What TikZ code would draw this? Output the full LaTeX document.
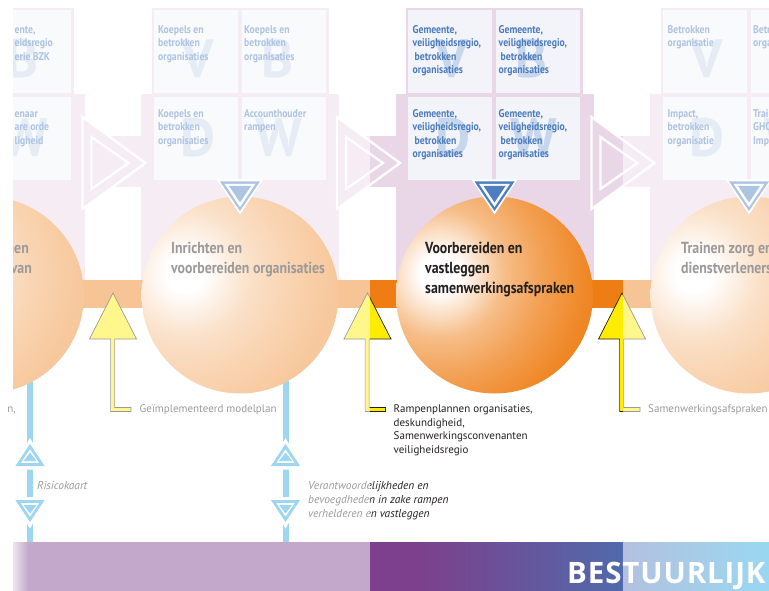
\documentclass[tikz,border=0pt]{standalone}
\usepackage{fontspec}
\setmainfont{PT Sans}
\newfontfamily\condfont[FakeStretch=0.865]{PT Sans}
\newfontfamily\titlefont[LetterSpace=3]{Open Sans}

\definecolor{orbOrange}{RGB}{238,125,20}
\definecolor{panelPink}{RGB}{233,215,232}
\definecolor{cellWhite}{RGB}{242,244,250}
\definecolor{cellText}{RGB}{74,123,191}
\definecolor{letterBlue}{RGB}{198,214,236}
\definecolor{markBlue}{RGB}{77,127,192}
\definecolor{lineBlue}{RGB}{40,165,228}
\definecolor{arrowYellow}{RGB}{255,236,0}
\definecolor{inkBlack}{RGB}{35,31,32}
\definecolor{fadedInk}{RGB}{156,154,155}
\definecolor{bandPurple}{RGB}{125,64,140}
\definecolor{bandBlue}{RGB}{80,106,172}
\definecolor{bandBlueL}{RGB}{88,118,185}
\definecolor{bandCyan}{RGB}{30,168,225}

% soft glow, spread over a disc of radius 160pt
\pgfdeclareradialshading{glow}{\pgfpoint{0bp}{0bp}}{%
  color(0bp)=(white); color(3bp)=(white);
  color(10bp)=(orbOrange!50!white); color(16bp)=(orbOrange!72!white);
  color(23bp)=(orbOrange!92!white); color(30bp)=(orbOrange); color(50bp)=(orbOrange)}

% strut that fixes the height of a first text line
\newcommand{\firstline}[1]{\rule{0pt}{#1pt}}

\tikzset{
  orb/.style={circle, inner sep=0, minimum size=197pt,
    path picture={\shade[shading=glow, shift={(path picture bounding box.center)}]
      (-55,-22) circle[radius=160];}},
  bigletter/.style={font=\bfseries\fontsize{54}{54}\selectfont, text=letterBlue, anchor=base, inner sep=0},
  celltext/.style={font=\condfont\bfseries\fontsize{11.2}{13.5}\selectfont, text=cellText, align=left, anchor=north west, inner sep=0},
  orbtext/.style={font=\condfont\bfseries\fontsize{16}{20}\selectfont, text=inkBlack, align=left, anchor=north west, inner sep=0},
  plainlabel/.style={font=\fontsize{11}{13.5}\selectfont, text=inkBlack, align=left, inner sep=0},
  itallabel/.style={font=\itshape\fontsize{11.4}{14}\selectfont, text=inkBlack, align=left, inner sep=0},
  titletext/.style={font=\titlefont\bfseries\fontsize{29.5}{30}\selectfont, text=white, anchor=base west, inner sep=0},
}

\begin{document}
\begin{tikzpicture}[x=1pt,y=-1pt]
\useasboundingbox (0,0) rectangle (769,591);

% column panels with the four VBDW cells
\foreach \k/\cx in {1/-14.5,2/240,3/494.5,4/749}{
  \fill[panelPink] (\cx-88.5,8) rectangle (\cx+88.5,95);
  \fill[panelPink] (\cx-99,94) rectangle (\cx+99,280);
  \fill[cellWhite] (\cx-86.5,10.5) rectangle (\cx-2.5,93);
  \fill[cellWhite] (\cx+1.5,10.5) rectangle (\cx+85.5,93);
  \fill[cellWhite] (\cx-86.5,97) rectangle (\cx-2.5,180);
  \fill[cellWhite] (\cx+1.5,97) rectangle (\cx+85.5,180);
  \node[bigletter] (V\k) at (\cx-42.5,78) {V};
  \node[bigletter] (B\k) at (\cx+37,78) {B};
  \node[bigletter] (D\k) at (\cx-42,157) {D};
  \node[bigletter] (W\k) at (\cx+39,157) {W};
}

% cell texts
\node[celltext] (c1b) at (14.5,23) {\firstline{10}ente,\\eidsregio\\erie BZK};
\node[celltext] (c1w) at (14.5,107) {\firstline{10}enaar\\are orde\\ligheid};

\node[celltext] (c2v) at (158,23) {\firstline{10}Koepels en\\betrokken\\organisaties};
\node[celltext] (c2b) at (244,23) {\firstline{10}Koepels en\\betrokken\\organisaties};
\node[celltext] (c2d) at (158,107) {\firstline{10}Koepels en\\betrokken\\organisaties};
\node[celltext] (c2w) at (244,107) {\firstline{10}Accounthouder\\rampen};

\node[celltext] (c3v) at (412.5,23) {\firstline{10}Gemeente,\\veiligheidsregio,\\\hspace{2pt}betrokken\\organisaties};
\node[celltext] (c3b) at (498.5,23) {\firstline{10}Gemeente,\\veiligheidsregio,\\\hspace{2pt}betrokken\\organisaties};
\node[celltext] (c3d) at (412.5,107) {\firstline{10}Gemeente,\\veiligheidsregio,\\\hspace{2pt}betrokken\\organisaties};
\node[celltext] (c3w) at (498.5,107) {\firstline{10}Gemeente,\\veiligheidsregio,\\\hspace{2pt}betrokken\\organisaties};

\node[celltext] (c4v) at (667.5,23) {\firstline{10}Betrokken\\organisatie};
\node[celltext] (c4b) at (753,23) {\firstline{10}Betrokken\\organisatie};
\node[celltext] (c4d) at (667.5,107) {\firstline{10}Impact,\\betrokken\\organisatie};
\node[celltext] (c4w) at (753,107) {\firstline{10}Training\\GHOR\\Impact};

% arrows from one column to the next
\foreach \cx in {-14.5,240,494.5}{
  \fill[panelPink] (\cx+98,136) rectangle (\cx+157,187);
  \fill[panelPink] (\cx+97,117) -- (\cx+160,163) -- (\cx+97,209) -- cycle;
  \draw[white, line width=2.3] (\cx+97,117) -- (\cx+160,163) -- (\cx+97,209) -- cycle;
  \draw[white, line width=2.3] (\cx+106,137) -- (\cx+143,163) -- (\cx+106,189) -- cycle;
}

% process bar
\fill[orbOrange] (13,280) rectangle (769,308);

% vertical lines below the first two circles
\foreach \lx in {30,285.5}{
  \draw[lineBlue, line width=6] (\lx,300) -- (\lx,542);
}

% the circles
\node[orb] (orb1) at (-14.5,295) {};
\node[orb] (orb2) at (240,295) {};
\node[orb] (orb3) at (494.5,295) {};
\node[orb] (orb4) at (749,295) {};

\node[orbtext, anchor=base east] (o1a) at (29,253) {nen};
\node[orbtext, anchor=base east] (o1b) at (32,273) {van};
\node[orbtext] (o2) at (171,241) {\firstline{12}Inrichten en\\voorbereiden organisaties};
\node[orbtext] (o3) at (425,241) {\firstline{12}Voorbereiden en\\vastleggen\\samenwerkingsafspraken};
\node[orbtext] (o4) at (681,241) {\firstline{12}Trainen zorg en\\dienstverleners};

% markers on top of the circles
\foreach \cx in {240,494.5,749}{
  \fill[white] (\cx-23,179.5) -- (\cx+23,179.5) -- (\cx,214.5) -- cycle;
  \fill[markBlue] (\cx-20,181.5) -- (\cx+20,181.5) -- (\cx,211) -- cycle;
  \fill[white] (\cx-15.5,183.8) -- (\cx+15.5,183.8) -- (\cx,207) -- cycle;
  \fill[markBlue] (\cx-11,186) -- (\cx+11,186) -- (\cx,202.5) -- cycle;
}

% up and down markers on the vertical lines
\foreach \lx in {30,285.5}{
  \fill[white] (\lx,438) -- (\lx+18,469.5) -- (\lx-18,469.5) -- cycle;
  \draw[lineBlue, line width=2.8] (\lx,446.5) -- (\lx+12,464.6) -- (\lx-12,464.6) -- cycle;
  \fill[lineBlue] (\lx,452.5) -- (\lx+6.5,461) -- (\lx-6.5,461) -- cycle;
  \fill[white] (\lx-18,497) -- (\lx+18,497) -- (\lx,528.5) -- cycle;
  \draw[lineBlue, line width=2.8] (\lx-12,501.4) -- (\lx+12,501.4) -- (\lx,519.5) -- cycle;
  \fill[lineBlue] (\lx-6.5,505) -- (\lx+6.5,505) -- (\lx,513.5) -- cycle;
}

% yellow input arrows
\foreach \ax in {113,367.5,622}{
  \filldraw[fill=arrowYellow, draw=inkBlack, line width=0.7]
    (\ax,293) -- (\ax+23.5,339) -- (\ax+1.6,339) -- (\ax+1.6,407.5) -- (\ax+18,407.5)
    -- (\ax+18,411.5) -- (\ax-2.4,411.5) -- (\ax-2.4,339) -- (\ax-23.5,339) -- cycle;
}

\node[plainlabel, anchor=base west] (in1) at (139.5,412.5) {Geïmplementeerd modelplan};
\node[plainlabel, anchor=north west] (in2) at (393.5,402.5) {\firstline{10}Rampenplannen organisaties,\\deskundigheid,\\Samenwerkingsconvenanten\\veiligheidsregio};
\node[plainlabel, anchor=base west] (in3) at (648,412.5) {Samenwerkingsafspraken};

\node[itallabel, anchor=base west] (out1) at (37,489) {Risicokaart};
\node[itallabel, anchor=north west] (out2) at (308,479) {\firstline{10}Verantwoordelijkheden en\\bevoegdheden in zake rampen\\verhelderen en vastleggen};

% bottom band
\fill[bandPurple] (13,542) rectangle (420.5,591);
\shade[left color=bandPurple!30!white, right color=bandPurple] (13,542) rectangle (28,591);
\shade[left color=bandPurple, right color=bandBlue] (420,542) rectangle (623.3,591);
\shade[left color=bandBlueL, right color=bandCyan] (623,542) rectangle (769,591);
\node[titletext] (title) at (567,583) {BESTUURLIJK};

% veil over the steps that are not in focus
\fill[white, opacity=0.55] (13,0) rectangle (370,591);
\fill[white, opacity=0.55] (623,0) rectangle (769,591);
\fill[white] (0,0) rectangle (13,591);

\node[plainlabel, text=fadedInk, anchor=base east] (cut) at (16,412.5) {n,};
\end{tikzpicture}
\end{document}
